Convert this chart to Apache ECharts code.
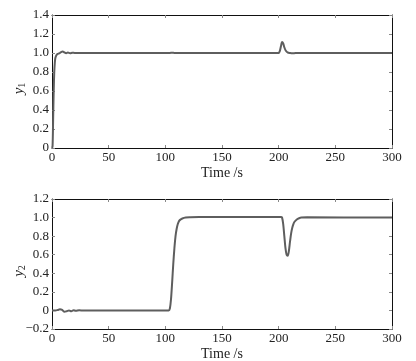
<!DOCTYPE html>
<html>
<head>
<meta charset="utf-8">
<script src="https://cdn.jsdelivr.net/npm/echarts@6/dist/echarts.min.js"></script>
<style>
  html, body { margin: 0; padding: 0; background: #fff; }
  #chart { width: 416px; height: 361px; }
</style>
</head>
<body>
<div id="chart"></div>
<script>
// y1 response
const t1 = [0, 0.5, 1, 1.5, 2, 2.5, 3, 4, 5, 6, 7, 8, 9.5, 11, 12.5, 14, 16, 18, 20, 25, 30, 100, 104, 106, 108, 112, 198, 200, 201, 202, 203, 204, 205, 206, 207, 208, 210, 212, 215, 300];
const y1 = [0, 0.02, 0.3, 0.6, 0.8, 0.9, 0.95, 0.98, 0.99, 0.995, 1.0, 1.01, 1.015, 1.005, 0.998, 1.005, 0.998, 1.003, 1.0, 1.0, 1.0, 1.0, 1.0, 1.003, 1.0, 1.0, 1.0, 1.0, 1.02, 1.07, 1.115, 1.1, 1.06, 1.03, 1.015, 1.005, 1.0, 0.997, 1.0, 1.0];

// y2 response
const t2 = [0, 3, 5, 7, 9, 11, 13, 15, 17, 19, 21, 24, 28, 35, 103, 104, 105, 106, 107, 108, 109, 110, 111, 112, 113, 115, 118, 122, 130, 202, 203, 204, 205, 206, 207, 208, 209, 210, 211, 212, 213, 214, 216, 218, 220, 225, 300];
const y2 = [0, 0, 0.005, 0.012, 0.005, -0.015, -0.008, 0.0, -0.01, 0.003, -0.004, 0.002, -0.002, 0, 0, 0.02, 0.12, 0.3, 0.5, 0.67, 0.8, 0.88, 0.93, 0.96, 0.975, 0.99, 1.0, 1.003, 1.005, 1.005, 1.0, 0.93, 0.8, 0.67, 0.6, 0.59, 0.64, 0.74, 0.83, 0.89, 0.93, 0.955, 0.98, 0.993, 1.0, 1.003, 1.0];

const font = 'Liberation Serif';
const lineColor = '#5e5e5e';

const fmtY = (v) => {
  if (Math.abs(v) < 1e-9) return '0';
  return v.toFixed(1).replace('-', '\u2212');
};

const frameLine = { show: true, onZero: false, lineStyle: { color: '#111', width: 1 } };
const tickIn = { show: true, inside: true, length: 3, lineStyle: { color: '#888' } };

function xAxes(gridIndex) {
  return [
    {
      type: 'value', gridIndex, min: 0, max: 300, interval: 50,
      position: 'bottom',
      axisLine: frameLine, axisTick: tickIn, splitLine: { show: false },
      axisLabel: { color: '#222', fontFamily: font, fontSize: 13, margin: 3 },
      name: 'Time /s', nameLocation: 'middle', nameGap: 18, nameMoveOverlap: false,
      nameTextStyle: { color: '#222', fontFamily: font, fontSize: 14 }
    },
    {
      type: 'value', gridIndex, min: 0, max: 300, interval: 50,
      position: 'top',
      axisLine: frameLine, axisTick: tickIn, splitLine: { show: false },
      axisLabel: { show: false }
    }
  ];
}

function yAxes(gridIndex, min, max, sub) {
  return [
    {
      type: 'value', gridIndex, min, max, interval: 0.2,
      position: 'left',
      axisLine: frameLine, axisTick: tickIn, splitLine: { show: false },
      axisLabel: { color: '#222', fontFamily: font, fontSize: 13, margin: 3, formatter: fmtY },
      name: '{v|y}{s|' + sub + '}', nameLocation: 'middle', nameGap: 25, nameMoveOverlap: false,
      nameTextStyle: {
        padding: [0, 14, 0, 0],
        rich: {
          v: { fontFamily: font, fontStyle: 'italic', fontSize: 15, color: '#222' },
          s: { fontFamily: font, fontSize: 10, color: '#222', verticalAlign: 'bottom', padding: [6, 0, 0, 0] }
        }
      }
    },
    {
      type: 'value', gridIndex, min, max, interval: 0.2,
      position: 'right',
      axisLine: frameLine, axisTick: tickIn, splitLine: { show: false },
      axisLabel: { show: false }
    }
  ];
}

const chart = echarts.init(document.getElementById('chart'), null, { renderer: 'canvas' });

const option = {
  animation: false,
  backgroundColor: '#fff',
  grid: [
    { left: 52, right: 24, top: 15, height: 133, containLabel: false, outerBoundsMode: 'none' },
    { left: 52, right: 24, top: 199, height: 130, containLabel: false, outerBoundsMode: 'none' }
  ],
  xAxis: [...xAxes(0), ...xAxes(1)],
  yAxis: [...yAxes(0, 0, 1.4, '1'), ...yAxes(1, -0.2, 1.2, '2')],
  series: [
    {
      type: 'line', xAxisIndex: 0, yAxisIndex: 0,
      data: t1.map((t, i) => [t, y1[i]]),
      smooth: 0.3, showSymbol: false,
      lineStyle: { color: lineColor, width: 2 }
    },
    {
      type: 'line', xAxisIndex: 2, yAxisIndex: 2,
      data: t2.map((t, i) => [t, y2[i]]),
      smooth: 0.3, showSymbol: false,
      lineStyle: { color: lineColor, width: 2 }
    }
  ]
};

chart.setOption(option);
</script>
</body>
</html>
